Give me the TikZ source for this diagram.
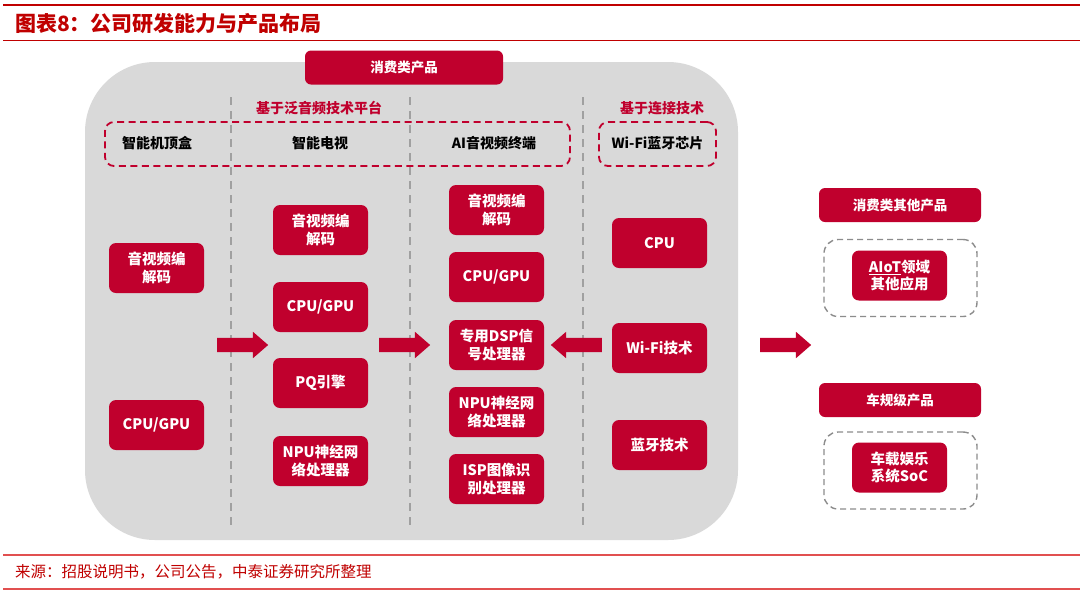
\documentclass[tikz,border=0pt]{standalone}
\usepackage{fontspec}
\setmainfont{Noto Sans CJK SC}
\usetikzlibrary{shapes.arrows}
\definecolor{zred}{RGB}{192,0,45}
\definecolor{tred}{RGB}{192,0,0}
\definecolor{lgray}{RGB}{217,217,217}
\definecolor{dgray}{RGB}{160,160,160}
\definecolor{bgray}{RGB}{140,140,140}
\definecolor{lred}{RGB}{225,80,80}
\begin{document}
\begin{tikzpicture}[x=1pt,y=-1pt,
  redbox/.style={fill=zred, rounded corners=7pt, text=white,
    font=\fontsize{14.5}{17.5}\selectfont\bfseries, align=center,
    minimum width=95pt, minimum height=50pt, inner sep=0pt},
  tabbox/.style={fill=zred, rounded corners=6pt, text=white,
    font=\fontsize{13.5}{15}\selectfont\bfseries,
    minimum height=34pt, inner sep=0pt},
  reddash/.style={draw=zred, line width=1.8pt, dash pattern=on 7pt off 4.5pt,
    rounded corners=9pt, minimum height=44pt, inner sep=0pt},
  graydash/.style={draw=bgray, line width=1.4pt, dash pattern=on 6pt off 4pt,
    rounded corners=14pt, minimum width=153pt, minimum height=77pt, inner sep=0pt},
  vdash/.style={draw=dgray, line width=1.2pt, dash pattern=on 8pt off 6pt},
  headtext/.style={font=\fontsize{14}{15}\selectfont\bfseries, text=black, inner sep=0pt},
  redlabel/.style={font=\fontsize{14}{15}\selectfont\bfseries, text=zred, inner sep=0pt},
  blockarr/.style={shape=single arrow, fill=zred, draw=none, inner sep=0pt,
    minimum height=51pt, minimum width=26pt, single arrow head extend=6pt,
    single arrow tip angle=82}
]
\useasboundingbox (0,0) rectangle (1080,598);
\fill[white] (0,0) rectangle (1080,598);

% title area
\draw[tred, line width=2.5pt] (3,5) -- (1080,5);
\node[anchor=west, text=tred, font=\fontsize{21}{21}\selectfont\bfseries, inner sep=0pt]
  (title) at (15,24) {图表8：公司研发能力与产品布局};
\draw[tred, line width=1pt] (3,40.5) -- (1080,40.5);

% panel
\node[fill=lgray, rounded corners=70pt, minimum width=653pt, minimum height=478pt, inner sep=0pt]
  (panel) at (411.5,301) {};
\node[tabbox, minimum width=198pt] (tab) at (404,67.5) {消费类产品};

% vertical dashed separators
\coordinate (s1t) at (231,97);  \coordinate (s1b) at (231,530);
\coordinate (s2t) at (410,97);  \coordinate (s2b) at (410,530);
\coordinate (s3t) at (583,97);  \coordinate (s3b) at (583,530);
\draw[vdash] (s1t) -- (s1b);
\draw[vdash] (s2t) -- (s2b);
\draw[vdash] (s3t) -- (s3b);

\node[redlabel] (lab1) at (319,108) {基于泛音频技术平台};
\node[redlabel] (lab2) at (662,108) {基于连接技术};

\node[reddash, minimum width=465pt] (grp1) at (337.5,144) {};
\node[reddash, minimum width=117pt] (grp2) at (657.5,144) {};

\node[headtext] (h1) at (157,143) {智能机顶盒};
\node[headtext] (h2) at (320,143) {智能电视};
\node[headtext] (h3) at (494,143) {AI音视频终端};
\node[headtext] (h4) at (657.5,143) {Wi-Fi蓝牙芯片};

% column 1
\node[redbox] (c1a) at (156.5,268) {音视频编\\解码};
\node[redbox] (c1b) at (156.5,425) {CPU/GPU};
% column 2
\node[redbox] (c2a) at (320.5,230) {音视频编\\解码};
\node[redbox] (c2b) at (320.5,307) {CPU/GPU};
\node[redbox] (c2c) at (320.5,383) {PQ引擎};
\node[redbox] (c2d) at (320.5,461) {NPU神经网\\络处理器};
% column 3
\node[redbox] (c3a) at (496.5,210) {音视频编\\解码};
\node[redbox] (c3b) at (496.5,277) {CPU/GPU};
\node[redbox] (c3c) at (496.5,345) {专用DSP信\\号处理器};
\node[redbox] (c3d) at (496.5,412) {NPU神经网\\络处理器};
\node[redbox] (c3e) at (496.5,479) {ISP图像识\\别处理器};
% column 4
\node[redbox] (c4a) at (659.5,243) {CPU};
\node[redbox] (c4b) at (659.5,348) {Wi-Fi技术};
\node[redbox] (c4c) at (659.5,445) {蓝牙技术};

% block arrows
\node[blockarr] (ar1) at (238.5,345) {\rule{0pt}{14pt}};
\node[blockarr] (ar2) at (400.5,345) {\rule{0pt}{14pt}};
\node[blockarr, shape border rotate=180] (ar3) at (580.5,345) {\rule{0pt}{14pt}};
\node[blockarr] (ar4) at (781.5,345) {\rule{0pt}{14pt}};

% right side
\node[tabbox, minimum width=162pt] (oth) at (900,205) {消费类其他产品};
\node[graydash] (dg1) at (900.5,278) {};
\node[redbox] (aiot) at (899.5,275.5) {\underline{AIoT}领域\\其他应用};
\node[tabbox, minimum width=162pt] (car) at (900,400) {车规级产品};
\node[graydash] (dg2) at (900.5,470.5) {};
\node[redbox] (soc) at (899.5,467.5) {车载娱乐\\系统SoC};

% footer
\draw[lred, line width=1.2pt] (3,555) -- (1080,555);
\node[anchor=west, text=tred, font=\fontsize{15.5}{15.5}\selectfont, inner sep=0pt]
  (src) at (15,572) {来源：招股说明书，公司公告，中泰证券研究所整理};
\draw[lred, line width=1.2pt] (3,589) -- (1080,589);
\end{tikzpicture}
\end{document}
